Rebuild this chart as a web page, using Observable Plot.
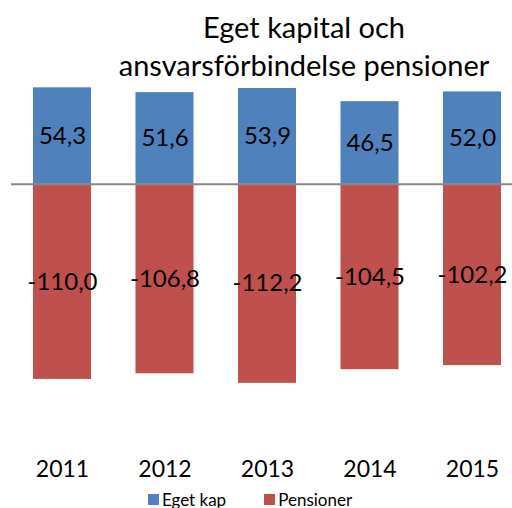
<!DOCTYPE html>
<html>
<head>
<meta charset="utf-8">
<script src="https://cdn.jsdelivr.net/npm/d3@7"></script>
<script src="https://cdn.jsdelivr.net/npm/@observablehq/plot@0.6"></script>
<style>
  html, body { margin: 0; padding: 0; background: #fff; }
  body { width: 512px; height: 508px; overflow: hidden; font-family: Lato, "Open Sans", sans-serif; }
  #title { height: 84px; box-sizing: border-box; padding-top: 8px; padding-left: 96px; text-align: center; font-size: 29px; line-height: 38px; color: #000; white-space: nowrap; }
  #legend { height: 24px; display: flex; justify-content: center; align-items: center; gap: 38px; font-size: 17px; padding-right: 12px; box-sizing: border-box; padding-top: 6px; }
  .item { display: flex; align-items: center; gap: 3px; }
  .sw { width: 11px; height: 11px; display: inline-block; }
  svg { display: block; }
</style>
</head>
<body>
<div id="title">Eget kapital och<br>ansvarsförbindelse pensioner</div>
<div id="chart"></div>
<div id="legend"></div>
<script>
const years = ["2011", "2012", "2013", "2014", "2015"];
const egetKap = [54.3, 51.6, 53.9, 46.5, 52.0];
const pensioner = [-110.0, -106.8, -112.2, -104.5, -102.2];
const seriesNames = ["Eget kap", "Pensioner"];
const seriesColors = ["#4F81BD", "#C0504D"];

const data = [];
years.forEach((y, i) => {
  data.push({year: y, series: seriesNames[0], value: egetKap[i]});
  data.push({year: y, series: seriesNames[1], value: pensioner[i]});
});
const fmt = v => v.toFixed(1).replace(".", ",");

const zero = 99.7, k = 1.775;
const chart = Plot.plot({
  width: 512,
  height: 400,
  marginTop: 0,
  marginLeft: 11,
  marginRight: 0,
  marginBottom: 24,
  style: {fontFamily: "Lato, 'Open Sans', sans-serif", fontSize: "23px", color: "#000", background: "#fff"},
  x: {domain: years, range: [11, 523], paddingInner: 0.434, paddingOuter: 0.2145, round: false, label: null},
  y: {domain: [-130, 60], range: [zero + 130 * k, zero - 60 * k], axis: null},
  color: {domain: seriesNames, range: seriesColors},
  marks: [
    Plot.barY(data, {x: "year", y1: 0, y2: "value", fill: "series"}),
    Plot.ruleY([0], {stroke: "#888888", strokeWidth: 2}),
    Plot.text(data, {x: "year", y: d => d.value / 2, text: d => fmt(d.value), fill: "#000", fontSize: 24}),
    Plot.axisX({tickSize: 0, tickPadding: 0, fontSize: 23, fill: "#000", label: null})
  ]
});
document.getElementById("chart").appendChild(chart);

const legend = document.getElementById("legend");
seriesNames.forEach((n, i) => {
  const it = document.createElement("div");
  it.className = "item";
  const sw = document.createElement("span");
  sw.className = "sw";
  sw.style.background = seriesColors[i];
  const t = document.createElement("span");
  t.textContent = n;
  it.appendChild(sw);
  it.appendChild(t);
  legend.appendChild(it);
});
</script>
</body>
</html>
